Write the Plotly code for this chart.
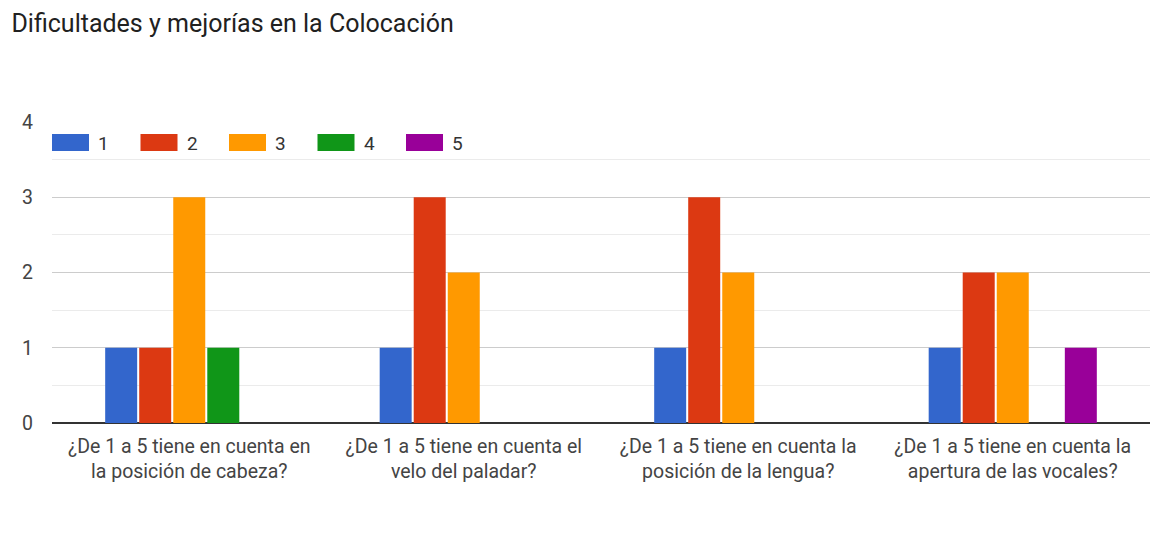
import plotly.graph_objects as go

# categories (questions) and response counts per rating
questions = [
    "¿De 1 a 5 tiene en cuenta en<br>la posición de cabeza?",
    "¿De 1 a 5 tiene en cuenta el<br>velo del paladar?",
    "¿De 1 a 5 tiene en cuenta la<br>posición de la lengua?",
    "¿De 1 a 5 tiene en cuenta la<br>apertura de las vocales?",
]
ratings = ["1", "2", "3", "4", "5"]
counts_1 = [1, 1, 1, 1]
counts_2 = [1, 3, 3, 2]
counts_3 = [3, 2, 2, 2]
counts_4 = [1, 0, 0, 0]
counts_5 = [0, 0, 0, 1]
y_ticks = [0, 1, 2, 3, 4]

colors = ["#3366cc", "#dc3912", "#ff9900", "#109618", "#990099"]
series = [counts_1, counts_2, counts_3, counts_4, counts_5]
FONT = "Roboto, Arial, sans-serif"

fig = go.Figure()
for name, values, color in zip(ratings, series, colors):
    fig.add_trace(go.Bar(
        x=questions, y=values, name=name,
        marker=dict(color=color, line=dict(width=0)),
        showlegend=False, hoverinfo="x+y+name",
    ))

# hand-drawn legend row, google-forms style wide swatches
step = 88.5
for i, (name, color) in enumerate(zip(ratings, colors)):
    fig.add_shape(
        type="rect", xref="paper", yref="paper",
        xsizemode="pixel", ysizemode="pixel", xanchor=0, yanchor=1,
        x0=i * step, x1=i * step + 37, y0=-12, y1=-29,
        fillcolor=color, line=dict(width=0), layer="above",
    )
    fig.add_annotation(
        text=name, xref="paper", yref="paper", x=0, y=1,
        xanchor="left", yanchor="middle", xshift=i * step + 44, yshift=-21,
        showarrow=False, font=dict(family=FONT, size=19, color="#333333"),
    )

# the page body adds 8px around the figure, so the figure is 8px smaller
fig.update_layout(
    width=1150, height=529,
    margin=dict(l=44, r=8, t=114, b=114),
    paper_bgcolor="white", plot_bgcolor="white",
    barmode="group", bargap=0.38, bargroupgap=0.06,
    title=dict(
        text="Dificultades y mejorías en la Colocación",
        x=0.003, xanchor="left", y=0.971, yanchor="middle",
        font=dict(family=FONT, size=25, color="#212121"),
    ),
    font=dict(family=FONT, size=19, color="#444444"),
    xaxis=dict(
        showgrid=False, showline=False, zeroline=False,
        tickfont=dict(family=FONT, size=19.5, color="#444444"),
        ticklabelstandoff=9, fixedrange=True,
    ),
    yaxis=dict(
        range=[0, 4], tickvals=y_ticks, showline=False,
        gridcolor="#cccccc", gridwidth=1,
        zeroline=True, zerolinecolor="#333333", zerolinewidth=2,
        minor=dict(dtick=0.5, showgrid=True, gridcolor="#ebebeb", gridwidth=1),
        tickfont=dict(family=FONT, size=19.5, color="#444444"),
        ticklabelstandoff=18, fixedrange=True,
    ),
)

fig.write_html("out.html")
